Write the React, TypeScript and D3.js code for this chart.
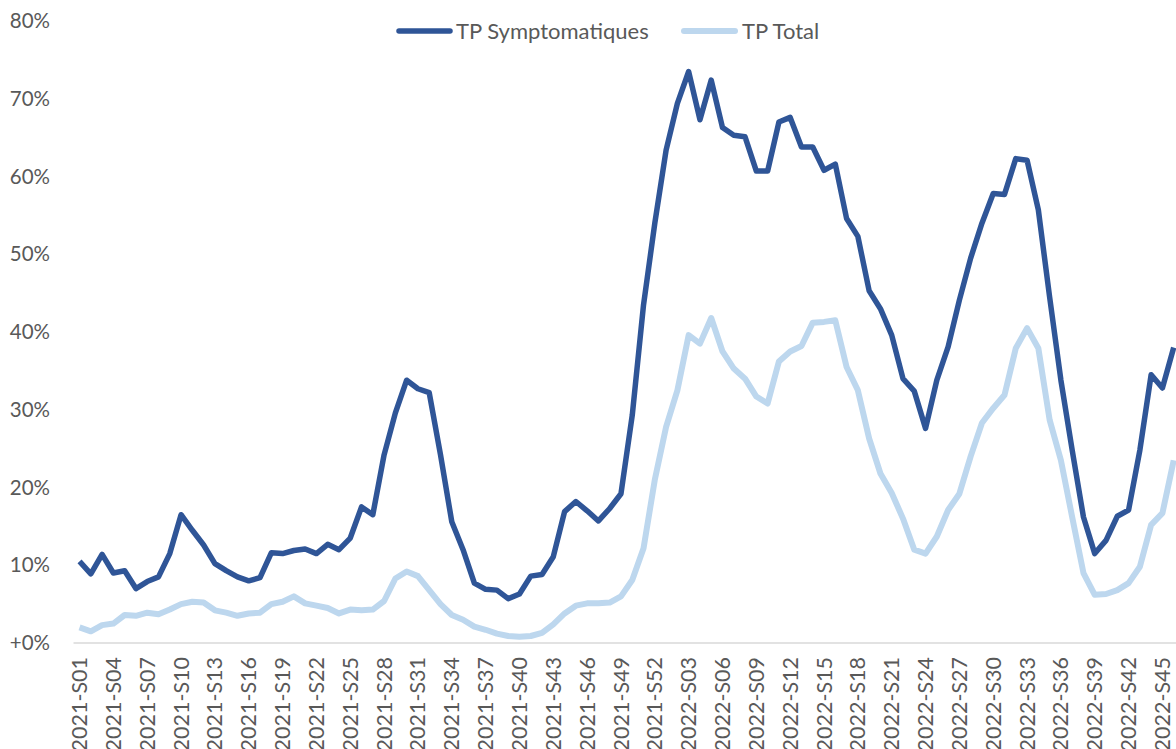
import React from 'react'
import * as d3 from 'd3'

// Categories: weekly labels 2021-S01 .. 2022-S46
const years = [2021, 2022]
const weeksPerYear = [52, 46]
const categories: string[] = []
years.forEach((yr, k) => {
    for (let w = 1; w <= weeksPerYear[k]; w++) {
        categories.push(yr + '-S' + String(w).padStart(2, '0'))
    }
})

// Values in %
const tpSymptomatiques = [
    10.5, 8.9, 11.4, 9.0, 9.3, 7.0, 7.9, 8.5, 11.5, 16.5,
    14.5, 12.6, 10.2, 9.3, 8.5, 8.0, 8.4, 11.6, 11.5, 11.9,
    12.1, 11.5, 12.7, 12.0, 13.5, 17.5, 16.5, 24.2, 29.6, 33.8,
    32.7, 32.2, 24.2, 15.6, 12.0, 7.7, 6.9, 6.8, 5.7, 6.3,
    8.6, 8.8, 11.1, 16.9, 18.2, 17.0, 15.7, 17.3, 19.2, 29.3,
    43.5, 54.0, 63.4, 69.4, 73.5, 67.3, 72.4, 66.3, 65.3, 65.1,
    60.7, 60.7, 67.0, 67.6, 63.8, 63.8, 60.8, 61.6, 54.6, 52.3,
    45.3, 43.0, 39.6, 34.0, 32.4, 27.6, 33.8, 38.1, 44.1, 49.5,
    54.0, 57.8, 57.7, 62.3, 62.1, 55.7, 44.5, 33.8, 24.8, 16.2,
    11.5, 13.2, 16.3, 17.1, 24.8, 34.5, 32.8, 38.0,
]
const tpTotal = [
    2.0, 1.5, 2.3, 2.5, 3.6, 3.5, 3.9, 3.7, 4.3, 5.0,
    5.3, 5.2, 4.2, 3.9, 3.5, 3.8, 3.9, 5.0, 5.3, 6.0,
    5.1, 4.8, 4.5, 3.8, 4.3, 4.2, 4.3, 5.4, 8.3, 9.2,
    8.6, 6.8, 5.0, 3.6, 3.0, 2.1, 1.7, 1.2, 0.9, 0.8,
    0.9, 1.3, 2.4, 3.8, 4.8, 5.1, 5.1, 5.2, 6.0, 8.1,
    12.2, 21.0, 27.8, 32.5, 39.6, 38.5, 41.8, 37.5, 35.3, 34.0,
    31.7, 30.8, 36.2, 37.5, 38.2, 41.2, 41.3, 41.5, 35.5, 32.5,
    26.3, 21.8, 19.3, 16.0, 12.0, 11.5, 13.7, 17.1, 19.2, 24.0,
    28.3, 30.2, 31.9, 37.9, 40.5, 37.9, 28.7, 23.5, 16.2, 9.0,
    6.2, 6.3, 6.8, 7.7, 9.8, 15.2, 16.7, 23.5,
]
const yTicks = [0, 10, 20, 30, 40, 50, 60, 70, 80]

const series = [
    { name: 'TP Symptomatiques', values: tpSymptomatiques, color: '#2F5597', width: 5.5 },
    { name: 'TP Total', values: tpTotal, color: '#BDD7EE', width: 6 },
]

const W = 1176
const H = 749
const font = 'Lato, "Open Sans", sans-serif'
const textColor = '#595959'

const App = () => {
    const xScale = d3.scaleBand()
        .domain(categories)
        .range([73.9, 73.9 + categories.length * 11.28])
        .padding(0)
    const xc = (c: string) => (xScale(c) as number) + xScale.bandwidth() / 2

    const yScale = d3.scaleLinear()
        .domain([0, 80])
        .range([643, 21])

    const linea = d3.line<number>()
        .x((v, i) => xc(categories[i]))
        .y((v) => yScale(v))

    return (
        <svg width={W} height={H} style={{ position: 'absolute', left: 0, top: 0, background: '#fff' }}
            fontFamily={font}>
            {/* y labels */}
            {yTicks.map((t) => (
                <text key={t} x={50} y={yScale(t)} dy="0.35em" textAnchor="end"
                    fontSize={20.5} fill={textColor}>
                    {t === 0 ? '+0%' : t + '%'}
                </text>
            ))}
            {/* x axis line */}
            <line x1={73.5} x2={W} y1={yScale(0)} y2={yScale(0)} stroke="#D9D9D9" strokeWidth={1.5} />
            {/* x labels */}
            {categories.map((c, i) => i % 3 === 0 && (
                <text key={c} transform={`translate(${xc(c)},657) rotate(-90)`}
                    textAnchor="end" dy="0.35em" fontSize={21.5} fill={textColor}>
                    {c}
                </text>
            ))}
            {/* lines */}
            {series.slice().reverse().map((s) => (
                <path key={s.name} d={linea(s.values) as string} fill="none" stroke={s.color}
                    strokeWidth={s.width} strokeLinejoin="round" />
            ))}
            {/* legend */}
            <g>
                <line x1={399} x2={450} y1={31} y2={31} stroke={series[0].color} strokeWidth={5.5} strokeLinecap="round" />
                <text x={456} y={31} dy="0.35em" fontSize={22} fill={textColor}>{series[0].name}</text>
                <line x1={684} x2={735} y1={31} y2={31} stroke={series[1].color} strokeWidth={6} strokeLinecap="round" />
                <text x={742} y={31} dy="0.35em" fontSize={22} fill={textColor}>{series[1].name}</text>
            </g>
        </svg>
    )
}

export default App
